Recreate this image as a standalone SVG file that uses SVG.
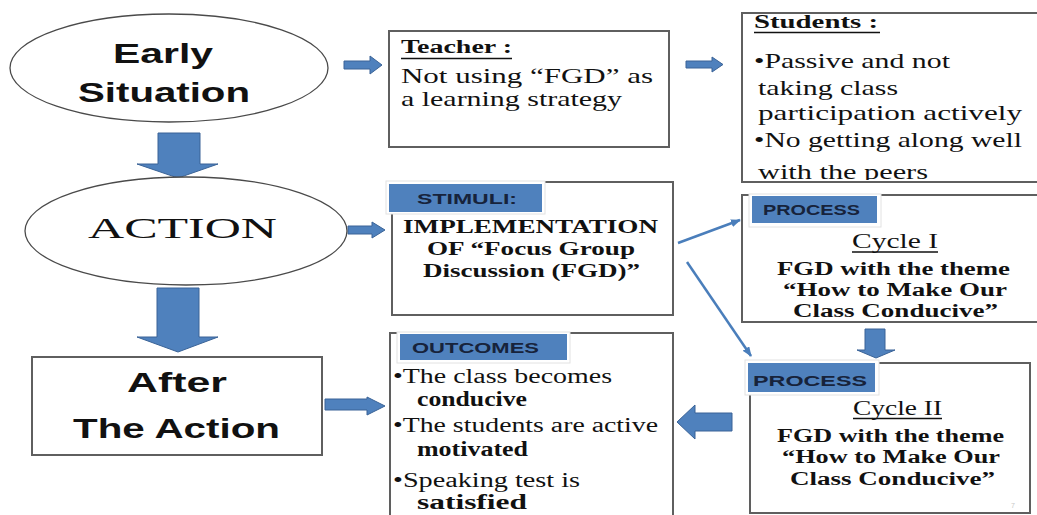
<svg xmlns="http://www.w3.org/2000/svg" width="1037" height="515" viewBox="0 0 1037 515">
<style>
.bg{fill:#fff}
.ell{fill:#fff;stroke:#4a4a4a;stroke-width:1.3}
.box{fill:#fff;stroke:#5f5f5f;stroke-width:2}
.blk{fill:#4f81bd;stroke:#3a6397;stroke-width:1}
.lbbg{fill:#fff;stroke:#e2e2e2;stroke-width:1}
.lb{fill:#4f81bd}
.lbt{font-family:"Liberation Sans",Arial,sans-serif;font-weight:bold;font-size:15px;fill:#17233b}
.big{font-family:"Liberation Sans",Arial,sans-serif;font-weight:bold;font-size:28px;fill:#111}
.act{font-family:"Liberation Serif","Times New Roman",serif;font-size:29px;fill:#111}
.s22{font-family:"Liberation Serif","Times New Roman",serif;font-size:22px;fill:#111}
.s20{font-family:"Liberation Serif","Times New Roman",serif;font-size:20px;fill:#111}
.b20{font-family:"Liberation Serif","Times New Roman",serif;font-size:20px;font-weight:bold;fill:#111}
.hd{font-family:"Liberation Serif","Times New Roman",serif;font-size:18px;font-weight:bold;fill:#111}
.b18{font-family:"Liberation Serif","Times New Roman",serif;font-size:18px;font-weight:bold;fill:#111}
.ul{stroke:#111;stroke-width:1.3}
.thin{stroke:#4a7ebb;stroke-width:2.5;fill:none}
</style>
<defs>
<marker id="ah" markerWidth="10" markerHeight="8" refX="9" refY="4" orient="auto" markerUnits="userSpaceOnUse">
<path d="M0,0 L10,4 L0,8 Z" fill="#4a7ebb"/>
</marker>
<clipPath id="stclip"><rect x="742" y="13" width="300" height="167"/></clipPath>
</defs>
<rect class="bg" x="0" y="0" width="1037" height="515"/>

<g id="connectors">
<!-- Early -> Action -->
<path class="blk" d="M158,133 H200 V164 H218 L178,178 L137,164 H158 Z"/>
<!-- Action -> After -->
<path class="blk" d="M157,288 H199 V337 H218 L178,352 L137,337 H157 Z"/>
<!-- Early -> Teacher -->
<path class="blk" d="M344,61 H370 V56 L382,65 L370,74 V69 H344 Z"/>
<!-- Teacher -> Students -->
<path class="blk" d="M686,61 H712 V57 L723,64.5 L712,72 V68 H686 Z"/>
<!-- Action -> Stimuli -->
<path class="blk" d="M348,226 H372 V222 L385,230 L372,238 V234 H348 Z"/>
<!-- After -> Outcomes -->
<path class="blk" d="M325,399 H367 V397 L385,406 L367,415 V410 H325 Z"/>
<!-- Cycle I -> Cycle II -->
<path class="blk" d="M865,329 H885 V350 H895 L876,358 L857,350 H865 Z"/>
<!-- Cycle II -> Outcomes -->
<path class="blk" d="M732,413 H695 V405 L677,422 L695,439 V431 H732 Z"/>
<!-- Stimuli -> Process lines -->
<line class="thin" x1="678" y1="243" x2="740" y2="220" marker-end="url(#ah)"/>
<line class="thin" x1="687" y1="262" x2="751" y2="356" marker-end="url(#ah)"/>
</g>

<g id="early">
<ellipse class="ell" cx="169" cy="68" rx="159" ry="54"/>
<text class="big" x="113" y="63" textLength="100" lengthAdjust="spacingAndGlyphs">Early</text>
<text class="big" x="78" y="102" textLength="172" lengthAdjust="spacingAndGlyphs">Situation</text>
</g>

<g id="action">
<ellipse class="ell" cx="186" cy="231" rx="161" ry="54"/>
<text class="act" x="88" y="238" textLength="189" lengthAdjust="spacingAndGlyphs">ACTION</text>
</g>

<g id="after">
<rect class="box" x="32" y="357" width="290" height="98"/>
<text class="big" x="127" y="392" textLength="100" lengthAdjust="spacingAndGlyphs">After</text>
<text class="big" x="73" y="438" textLength="207" lengthAdjust="spacingAndGlyphs">The Action</text>
</g>

<g id="teacher">
<rect class="box" x="389" y="31" width="280" height="116"/>
<text class="hd" x="401" y="53" textLength="111" lengthAdjust="spacingAndGlyphs">Teacher :</text>
<line class="ul" x1="401" y1="58.5" x2="512" y2="58.5"/>
<text class="s22" x="401" y="83" textLength="252" lengthAdjust="spacingAndGlyphs">Not using “FGD” as</text>
<text class="s22" x="401" y="106" textLength="221" lengthAdjust="spacingAndGlyphs">a learning strategy</text>
</g>

<g id="students">
<rect class="box" x="742" y="13" width="310" height="169"/>
<text class="hd" x="754" y="28" textLength="124" lengthAdjust="spacingAndGlyphs">Students :</text>
<line class="ul" x1="754" y1="32.5" x2="880" y2="32.5"/>
<g clip-path="url(#stclip)">
<text class="s22" x="754" y="68" textLength="196" lengthAdjust="spacingAndGlyphs">•Passive and not</text>
<text class="s22" x="758" y="95" textLength="140" lengthAdjust="spacingAndGlyphs">taking class</text>
<text class="s22" x="758" y="120" textLength="264" lengthAdjust="spacingAndGlyphs">participation actively</text>
<text class="s22" x="754" y="147" textLength="268" lengthAdjust="spacingAndGlyphs">•No getting along well</text>
<text class="s22" x="758" y="179" textLength="170" lengthAdjust="spacingAndGlyphs">with the peers</text>
</g>
</g>

<g id="stimuli">
<rect class="box" x="392" y="182" width="281" height="133"/>
<rect class="lbbg" x="386" y="181" width="159" height="33"/>
<rect class="lb" x="389" y="184" width="153" height="28"/>
<text class="lbt" x="417" y="204" textLength="100" lengthAdjust="spacingAndGlyphs">STIMULI:</text>
<text class="b18" x="403" y="233" textLength="255" lengthAdjust="spacingAndGlyphs">IMPLEMENTATION</text>
<text class="b18" x="427" y="255" textLength="208" lengthAdjust="spacingAndGlyphs">OF “Focus Group</text>
<text class="b18" x="423" y="277" textLength="217" lengthAdjust="spacingAndGlyphs">Discussion (FGD)”</text>
</g>

<g id="cycle1">
<rect class="box" x="742" y="195" width="310" height="127"/>
<rect class="lbbg" x="749" y="194" width="132" height="33"/>
<rect class="lb" x="752" y="196" width="125" height="27"/>
<text class="lbt" x="763" y="215" textLength="97" lengthAdjust="spacingAndGlyphs">PROCESS</text>
<text class="s22" x="852" y="248" textLength="86" lengthAdjust="spacingAndGlyphs">Cycle I</text>
<line class="ul" x1="852" y1="252" x2="938" y2="252"/>
<text class="b18" x="777" y="275" textLength="233" lengthAdjust="spacingAndGlyphs">FGD with the theme</text>
<text class="b18" x="783" y="296" textLength="224" lengthAdjust="spacingAndGlyphs">“How to Make Our</text>
<text class="b18" x="793" y="317" textLength="205" lengthAdjust="spacingAndGlyphs">Class Conducive”</text>
</g>

<g id="cycle2">
<rect class="box" x="750" y="363" width="280" height="150"/>
<rect class="lbbg" x="745" y="360" width="134" height="35"/>
<rect class="lb" x="748" y="363" width="127" height="29"/>
<text class="lbt" x="753" y="386" textLength="114" lengthAdjust="spacingAndGlyphs">PROCESS</text>
<text class="s22" x="853" y="415" textLength="89" lengthAdjust="spacingAndGlyphs">Cycle II</text>
<line class="ul" x1="853" y1="418.5" x2="942" y2="418.5"/>
<text class="b18" x="777" y="442" textLength="227" lengthAdjust="spacingAndGlyphs">FGD with the theme</text>
<text class="b18" x="782" y="463" textLength="218" lengthAdjust="spacingAndGlyphs">“How to Make Our</text>
<text class="b18" x="790" y="485" textLength="205" lengthAdjust="spacingAndGlyphs">Class Conducive”</text>
<text x="1011" y="508" font-family="Liberation Sans, sans-serif" font-size="7" fill="#c8c8c8">7</text>
</g>

<g id="outcomes">
<rect class="box" x="390" y="333" width="283" height="200"/>
<rect class="lbbg" x="397" y="332" width="173" height="31"/>
<rect class="lb" x="400" y="334" width="167" height="26"/>
<text class="lbt" x="412" y="353" textLength="127" lengthAdjust="spacingAndGlyphs">OUTCOMES</text>
<text class="s20" x="393" y="383" textLength="219" lengthAdjust="spacingAndGlyphs">•The class becomes</text>
<text class="b20" x="417" y="406" textLength="110" lengthAdjust="spacingAndGlyphs">conducive</text>
<text class="s20" x="393" y="432" textLength="265" lengthAdjust="spacingAndGlyphs">•The students are active</text>
<text class="b20" x="417" y="456" textLength="111" lengthAdjust="spacingAndGlyphs">motivated</text>
<text class="s20" x="393" y="487" textLength="187" lengthAdjust="spacingAndGlyphs">•Speaking test is</text>
<text class="b20" x="417" y="509" textLength="110" lengthAdjust="spacingAndGlyphs">satisfied</text>
</g>
</svg>
